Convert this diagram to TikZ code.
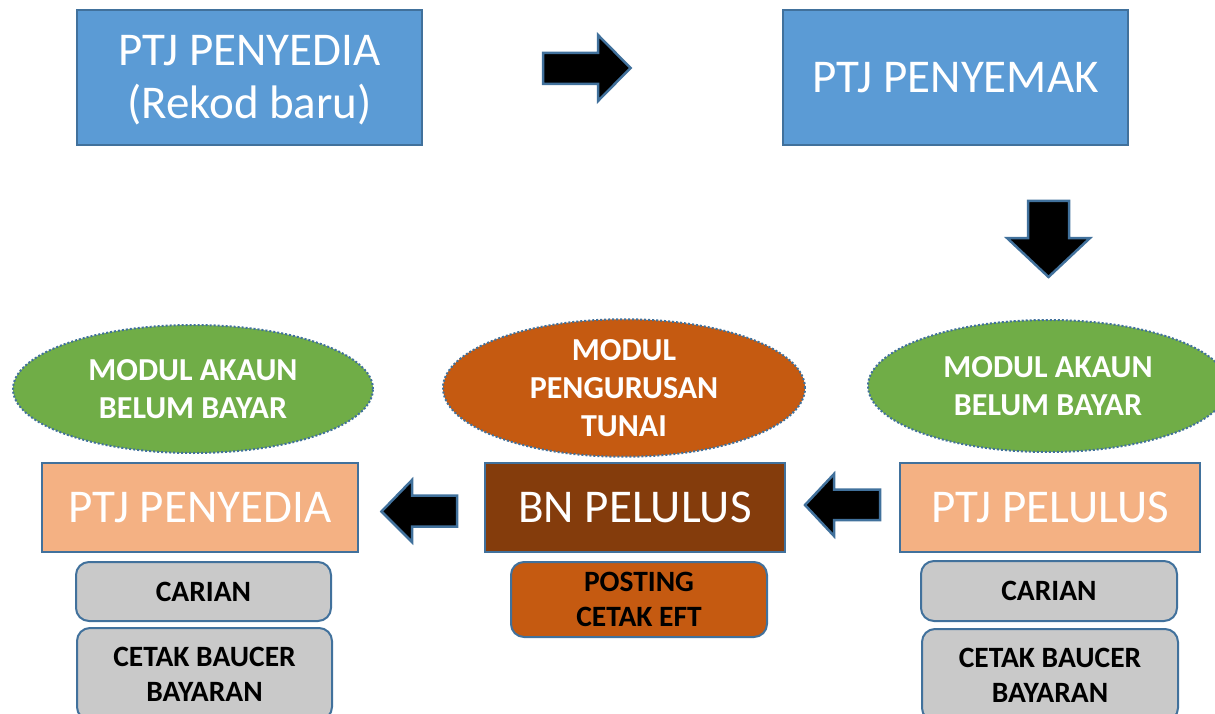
\documentclass[tikz,border=0pt]{standalone}
\usepackage{fontspec}
\setmainfont{Carlito}
\usetikzlibrary{shapes.geometric}
\definecolor{boxblue}{HTML}{5B9BD5}
\definecolor{edgeblue}{HTML}{41719C}
\definecolor{salmon}{HTML}{F4B183}
\definecolor{brown}{HTML}{843C0C}
\definecolor{orng}{HTML}{C55A11}
\definecolor{grn}{HTML}{70AD47}
\definecolor{greyf}{HTML}{C9C9C9}
\tikzset{
  bigbox/.style={draw=edgeblue, line width=2pt, rectangle, inner sep=0pt, text=white, align=center,
    font=\fontsize{47}{53}\selectfont},
  oval/.style={ellipse, draw=edgeblue, line width=2pt, dotted, inner sep=0pt, text=white, align=center,
    font=\fontsize{32}{38}\selectfont\bfseries},
  subbox/.style={draw=edgeblue, line width=2pt, rectangle, rounded corners=13pt, inner sep=0pt, text=black, align=center,
    font=\fontsize{29.5}{35}\selectfont\bfseries},
  blockarrow/.style={fill=black, draw=edgeblue, line width=2.5pt, line join=miter},
}
\begin{document}
\begin{tikzpicture}[x=1pt, y=-1pt]
\useasboundingbox (0,0) rectangle (1215,714);
% top row
\node[bigbox, fill=boxblue, minimum width=345pt, minimum height=135pt] (src) at (249.5,77.5) {};
\node[bigbox, draw=none] (srctext) at (249.5,80) {PTJ PENYEDIA\\(Rekod baru)};
\node[bigbox, fill=boxblue, minimum width=345pt, minimum height=135pt] (chk) at (955.5,77.5) {PTJ PENYEMAK};
% ovals
\node[oval, fill=grn, minimum width=360pt, minimum height=128pt] (ovl) at (193,389) {MODUL AKAUN\\BELUM BAYAR};
\node[oval, fill=orng, minimum width=362pt, minimum height=136pt] (ovc) at (624,388) {MODUL\\PENGURUSAN\\TUNAI};
\node[oval, fill=grn, minimum width=360pt, minimum height=132pt] (ovr) at (1048,386) {MODUL AKAUN\\BELUM BAYAR};
% middle row
\node[bigbox, fill=salmon, minimum width=316pt, minimum height=89pt] (pen) at (200,507.5) {PTJ PENYEDIA};
\node[bigbox, fill=brown, minimum width=300pt, minimum height=89pt] (bnp) at (635,507.5) {BN PELULUS};
\node[bigbox, fill=salmon, minimum width=300pt, minimum height=89pt] (pel) at (1050,507.5) {PTJ PELULUS};
% sub boxes
\node[subbox, fill=greyf, minimum width=255pt, minimum height=59pt] (carl) at (203.5,591.5) {CARIAN};
\node[subbox, fill=greyf, minimum width=255pt, minimum height=92pt] (cetl) at (204.5,674) {CETAK BAUCER\\BAYARAN};
\node[subbox, fill=orng, minimum width=256pt, minimum height=75pt] (post) at (639,599.5) {POSTING\\CETAK EFT};
\node[subbox, fill=greyf, minimum width=256pt, minimum height=60pt] (carr) at (1049,591) {CARIAN};
\node[subbox, fill=greyf, minimum width=256pt, minimum height=92pt] (cetr) at (1050,675) {CETAK BAUCER\\BAYARAN};
% block arrows
\draw[blockarrow] (543,53) -- (598,53) -- (598,35) -- (630.5,68) -- (598,101) -- (598,84) -- (543,84) -- cycle;
\draw[blockarrow] (1028,201) -- (1069,201) -- (1069,238) -- (1090,238) -- (1048.5,277) -- (1007,238) -- (1028,238) -- cycle;
\draw[blockarrow] (457,495.5) -- (412,495.5) -- (412,480) -- (381.5,511.5) -- (412,542) -- (412,526.5) -- (457,526.5) -- cycle;
\draw[blockarrow] (880,489.5) -- (834,489.5) -- (834,474) -- (805,505) -- (834,536) -- (834,520) -- (880,520) -- cycle;
\end{tikzpicture}
\end{document}
